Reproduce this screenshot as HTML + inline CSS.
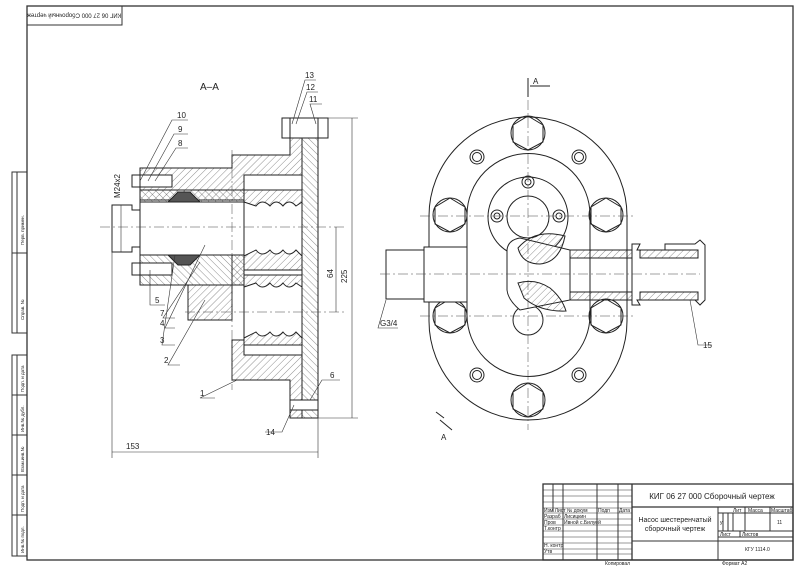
<!DOCTYPE html>
<html><head><meta charset="utf-8"><style>
html,body{margin:0;padding:0;background:#fff}
svg{display:block}
text{font-family:"Liberation Sans",sans-serif;fill:#222}
</style></head><body>
<svg width="800" height="566" viewBox="0 0 800 566" xmlns="http://www.w3.org/2000/svg">
<defs>
<pattern id="h" width="5" height="5" patternUnits="userSpaceOnUse" patternTransform="rotate(45)"><line x1="0" y1="0" x2="0" y2="5" stroke="#444" stroke-width="0.6"/></pattern>
<pattern id="h2" width="5" height="5" patternUnits="userSpaceOnUse" patternTransform="rotate(-45)"><line x1="0" y1="0" x2="0" y2="5" stroke="#444" stroke-width="0.6"/></pattern>
</defs>
<g fill="none" stroke="#333" stroke-width="1">
<rect x="27" y="6" width="766" height="554" stroke-width="1.3"/>
<rect x="27" y="6" width="95" height="19"/>
<rect x="12" y="172" width="15" height="161"/><line x1="12" y1="253" x2="27" y2="253"/><line x1="17" y1="172" x2="17" y2="333"/>
<rect x="12" y="355" width="15" height="201"/><line x1="17" y1="355" x2="17" y2="556"/>
<line x1="12" y1="395" x2="27" y2="395"/><line x1="12" y1="435" x2="27" y2="435"/><line x1="12" y1="475" x2="27" y2="475"/><line x1="12" y1="515" x2="27" y2="515"/>
<rect x="543" y="484" width="250" height="76" stroke-width="1.3"/>
<line x1="632" y1="484" x2="632" y2="560" stroke-width="1.3"/>
<line x1="632" y1="507" x2="793" y2="507" stroke-width="1.3"/>
<line x1="632" y1="541" x2="793" y2="541"/>
<line x1="718" y1="507" x2="718" y2="560"/>
<line x1="718" y1="513" x2="793" y2="513"/><line x1="718" y1="531" x2="793" y2="531"/>
<line x1="745" y1="507" x2="745" y2="531"/><line x1="770" y1="507" x2="770" y2="531"/>
<line x1="723" y1="513" x2="723" y2="531"/><line x1="728" y1="513" x2="728" y2="531"/><line x1="733" y1="513" x2="733" y2="531"/>
<line x1="740" y1="531" x2="740" y2="537"/><line x1="718" y1="537" x2="793" y2="537"/>
<line x1="553" y1="484" x2="553" y2="512"/><line x1="563" y1="484" x2="563" y2="560"/><line x1="597" y1="484" x2="597" y2="560"/><line x1="618" y1="484" x2="618" y2="560"/>
<g stroke-width="0.6">
<line x1="543" y1="490" x2="632" y2="490"/><line x1="543" y1="496" x2="632" y2="496"/><line x1="543" y1="502" x2="632" y2="502"/>
<line x1="543" y1="508" x2="632" y2="508"/><line x1="543" y1="513" x2="632" y2="513"/><line x1="543" y1="519" x2="632" y2="519"/>
<line x1="543" y1="525" x2="632" y2="525"/><line x1="543" y1="531" x2="632" y2="531"/><line x1="543" y1="537" x2="632" y2="537"/>
<line x1="543" y1="543" x2="632" y2="543"/><line x1="543" y1="549" x2="632" y2="549"/><line x1="543" y1="554" x2="632" y2="554"/>
</g>
</g>
<g font-size="5">
<text x="74" y="17.5" text-anchor="middle" transform="rotate(180 74 15.5)" font-size="6">КИГ 06 27 000 Сборочный чертеж</text>
<text x="544" y="512">Изм Лист  № докум</text><text x="598" y="512">Подп</text><text x="619" y="512">Дата</text>
<text x="544" y="518">Разраб</text><text x="564" y="518">Лисицкин</text>
<text x="544" y="524">Пров</text><text x="564" y="524">Ивной с.Билуей</text>
<text x="544" y="530">Т.контр</text><text x="544" y="547">Н. контр</text><text x="544" y="553">Утв</text>
<text x="733" y="512">Лит</text><text x="748" y="512">Масса</text><text x="771" y="512">Масштаб</text>
<text x="720" y="524">у</text><text x="777" y="524">11</text>
<text x="720" y="536">Лист</text><text x="742" y="536">Листов</text>
<text x="745" y="551">КГУ 1114.0</text>
<text x="605" y="565">Копировал</text><text x="722" y="565">Формат  А2</text>
<g font-size="4.5">
<text transform="translate(24 245) rotate(-90)">Перв. примен.</text>
<text transform="translate(24 320) rotate(-90)">Справ. №</text>
<text transform="translate(24 392) rotate(-90)">Подп. и дата</text>
<text transform="translate(24 432) rotate(-90)">Инв.№ дубл.</text>
<text transform="translate(24 472) rotate(-90)">Взам.инв.№</text>
<text transform="translate(24 512) rotate(-90)">Подп. и дата</text>
<text transform="translate(24 553) rotate(-90)">Инв.№ подл.</text>
</g>
</g>
<text x="712" y="499" font-size="8" text-anchor="middle">КИГ 06 27 000 Сборочный чертеж</text>
<text x="675" y="522" font-size="7" text-anchor="middle">Насос шестеренчатый</text>
<text x="675" y="531" font-size="7" text-anchor="middle">сборочный чертеж</text>

<text x="200" y="90" font-size="10">А–А</text>
<g stroke="#222" stroke-width="1">
<path d="M232 155 H290 V137 H302 V418 H290 V380 H232 V340 H244 V285 H188 V320 H232 V255 H244 V200 H140 V168 H232 Z" fill="url(#h)"/>
<rect x="302" y="137" width="16" height="281" fill="url(#h2)"/>
<rect x="140" y="255" width="104" height="30" fill="url(#h2)"/>
<rect x="140" y="190" width="104" height="12" fill="url(#h2)"/>
<rect x="244" y="175" width="58" height="180" fill="#fff"/>
<path d="M244 190 H302 V202 L296 206 Q289 198 283 206 Q276 198 270 206 Q262 198 256 206 L244 202 Z" fill="url(#h)"/>
<path d="M244 256 L256 250 Q262 258 270 250 Q276 258 283 250 Q289 258 296 250 L302 256 V270 H244 Z" fill="url(#h)"/>
<path d="M244 275 H302 V287 L296 283 Q289 291 283 283 Q276 291 270 283 Q262 291 256 283 L244 287 Z" fill="url(#h)"/>
<path d="M244 338 L256 332 Q262 340 270 332 Q276 340 283 332 Q289 340 296 332 L302 338 V345 H244 Z" fill="url(#h)"/>
<line x1="244" y1="175" x2="302" y2="175"/><line x1="244" y1="355" x2="302" y2="355"/>
<rect x="140" y="202" width="104" height="53" fill="#fff"/>
<path d="M112 205 H132 V210 H140 V247 H132 V252 H112 Z" fill="#fff"/>
<path d="M168 202 L178 192 H190 L200 202 Z M168 255 L178 265 H190 L200 255 Z" fill="#555"/>
<rect x="282" y="118" width="46" height="20" fill="#fff"/><line x1="290" y1="118" x2="290" y2="138"/><line x1="318" y1="118" x2="318" y2="138"/>
<rect x="290" y="400" width="28" height="10" fill="#fff"/>
<rect x="132" y="175" width="40" height="12" fill="#fff"/><line x1="140" y1="175" x2="140" y2="187"/>
<rect x="132" y="263" width="40" height="12" fill="#fff"/><line x1="140" y1="263" x2="140" y2="275"/>
</g>
<g stroke="#444" stroke-width="0.5" stroke-dasharray="10 3 2 3" fill="none">
<line x1="100" y1="227" x2="345" y2="227"/><line x1="185" y1="312" x2="345" y2="312"/>
<line x1="232" y1="150" x2="232" y2="390"/>
</g>
<g stroke="#333" stroke-width="0.6" fill="none">
<line x1="318" y1="118" x2="358" y2="118"/><line x1="318" y1="418" x2="358" y2="418"/><line x1="352" y1="118" x2="352" y2="418"/>
<line x1="336" y1="227" x2="336" y2="312"/>
<line x1="112" y1="240" x2="112" y2="458"/><line x1="318" y1="418" x2="318" y2="458"/><line x1="112" y1="452" x2="318" y2="452"/>
<line x1="121" y1="205" x2="121" y2="252"/>
<path d="M292 124 L305 80 H316 M296 124 L307 92 H318 M316 124 L310 104 H322"/>
<path d="M140 181 L172 120 H188 M148 181 L174 134 H188 M155 181 L176 148 H188"/>
<path d="M150 270 L150 305 H165 M200 262 L163 318 H175 M205 245 L165 328 H175 M175 255 L162 345 H175 M205 300 L168 365 H180 M237 380 L200 398 H215 M310 400 L322 380 H340 M294 405 L282 432 H265"/>
<path d="M386 300 L378 328 H398 M690 300 L698 345 H712"/>
</g>
<g font-size="8">
<text x="305" y="78">13</text><text x="306" y="90">12</text><text x="309" y="102">11</text>
<text x="177" y="118">10</text><text x="178" y="132">9</text><text x="178" y="146">8</text>
<text x="155" y="303">5</text><text x="160" y="316">7</text><text x="160" y="326">4</text><text x="160" y="343">3</text><text x="164" y="363">2</text><text x="200" y="396">1</text><text x="330" y="378">6</text><text x="266" y="435">14</text>
<text x="126" y="449">153</text><text x="380" y="326">G3/4</text><text x="703" y="348">15</text>
<text transform="translate(347 283) rotate(-90)">225</text>
<text transform="translate(333 278) rotate(-90)">64</text>
<text transform="translate(120 198) rotate(-90)">M24x2</text>
<text x="533" y="84">А</text><text x="441" y="440">А</text>
</g>

<g stroke="#222" stroke-width="1" fill="none">
<path d="M429 216 A99 99 0 0 1 627 216 V321 A99 99 0 0 1 429 321 Z"/>
<path d="M467 215 A61.5 61.5 0 0 1 590 215 V315 A61.5 61.5 0 0 1 467 315 Z"/>
<circle cx="528" cy="217" r="40"/><circle cx="528" cy="217" r="21"/>
<circle cx="528" cy="182" r="6"/><circle cx="528" cy="182" r="3"/>
<circle cx="497" cy="216" r="6"/><circle cx="497" cy="216" r="3"/>
<circle cx="559" cy="216" r="6"/><circle cx="559" cy="216" r="3"/>
<g id="hx"><polygon points="528,116 543,125 543,142 528,150 513,142 513,125"/><circle cx="528" cy="133" r="17"/></g>
<use href="#hx" x="-78" y="82"/><use href="#hx" x="78" y="82"/><use href="#hx" x="-78" y="183"/><use href="#hx" x="78" y="183"/><use href="#hx" x="0" y="267"/>
<circle cx="477" cy="157" r="7"/><circle cx="477" cy="157" r="4.5"/>
<circle cx="579" cy="157" r="7"/><circle cx="579" cy="157" r="4.5"/>
<circle cx="477" cy="375" r="7"/><circle cx="477" cy="375" r="4.5"/>
<circle cx="579" cy="375" r="7"/><circle cx="579" cy="375" r="4.5"/>
<circle cx="528" cy="320" r="15"/>
<rect x="386" y="250" width="38" height="49" fill="#fff"/><rect x="424" y="247" width="43" height="55" fill="#fff"/>
<path d="M507 250 Q508 240 520 238 L570 250 V300 L520 310 Q508 300 507 290 Z" fill="#fff"/>
<path d="M518 248 Q535 228 565 236 Q560 262 540 264 Q522 264 518 248Z" fill="url(#h)"/>
<path d="M518 283 Q535 278 550 288 Q562 298 566 311 Q540 312 524 298 Z" fill="url(#h)"/>
<path d="M570 250 H632 V258 H570 Z M570 292 H632 V300 H570 Z" fill="url(#h)"/>
<path d="M632 244 H640 L637 250 H665 V244 H695 L700 240 L705 245 V300 L700 305 L695 300 H665 L637 300 L640 305 H632 Z" fill="#fff"/>
<path d="M640 250 H698 V258 H640 Z M640 292 H698 V300 H640 Z" fill="url(#h)"/>
</g>
<g stroke="#444" stroke-width="0.5" stroke-dasharray="10 3 2 3" fill="none">
<line x1="528" y1="100" x2="528" y2="430"/><line x1="420" y1="216" x2="636" y2="216"/><line x1="420" y1="316" x2="636" y2="316"/><line x1="380" y1="274" x2="700" y2="274"/>
</g>
<g stroke="#222" stroke-width="1" fill="none">
<line x1="528" y1="78" x2="528" y2="97"/><line x1="530" y1="86" x2="550" y2="86"/>
<line x1="436" y1="412" x2="444" y2="418"/><line x1="440" y1="420" x2="452" y2="430"/>
</g>
</svg>
</body></html>
